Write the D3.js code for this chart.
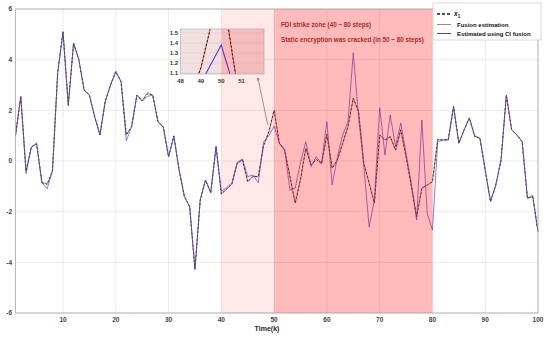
<!DOCTYPE html>
<html>
<head>
<meta charset="utf-8">
<script src="https://d3js.org/d3.v7.min.js"></script>
<style>
    body { margin: 0; background: #fff; }
    text { font-family: "Liberation Sans", Arial, sans-serif; font-weight: bold; }
</style>
</head>
<body>
<script>
// time steps 1..100
var steps = d3.range(1, 101);

// true state x1
var x1 = [1.0, 2.55, -0.4, 0.55, 0.67, -0.85, -0.93, -0.4, 3.5, 5.1,
          2.2, 4.65, 4.0, 2.8, 2.6, 1.75, 1.03, 2.35, 3.0, 3.53,
          3.13, 1.03, 1.36, 2.6, 2.37, 2.65, 2.6, 1.55, 1.34, 0.17,
          0.99, -0.36, -1.4, -1.8, -4.25, -1.54, -0.75, -1.25, 0.57, -1.3,
          -1.1, -0.9, -0.1, 0.05, -0.82, -0.6, -0.62, 0.6, 1.15, 2.0,
          0.7, 0.43, -0.62, -1.66, -0.72, 0.5, -0.15, 0.06, -0.1, 1.05,
          -0.28, 0.04, 0.7, 1.36, 2.48, 1.95, -0.1, -0.87, -1.66, 1.03,
          0.83, 0.96, 0.43, 1.23, 0.17, -1.0, -2.2, -1.07, -0.95, -0.82,
          0.85, 0.83, 0.85, 2.15, 0.7, 1.23, 1.7, 0.96, 0.9, -0.36,
          -1.6, -0.95, 0.04, 2.6, 1.23, 1.03, 0.76, -1.47, -1.41, -2.8];

// fusion estimation (encrypted)
var fusion = [1.0, 2.55, -0.4, 0.55, 0.72, -0.85, -0.9, -0.4, 3.5, 5.1,
              2.2, 4.65, 4.0, 2.8, 2.6, 1.75, 1.03, 2.35, 3.0, 3.53,
              3.13, 1.03, 1.36, 2.6, 2.37, 2.7, 2.6, 1.55, 1.34, 0.17,
              0.99, -0.36, -1.4, -1.8, -4.25, -1.54, -0.75, -1.25, 0.57, -1.3,
              -1.12, -0.92, -0.1, 0.05, -0.82, -0.6, -0.62, 0.6, 1.15, 2.0,
              0.7, 0.43, -0.62, -1.66, -0.72, 0.5, -0.15, 0.06, -0.1, 1.05,
              -0.28, 0.04, 0.7, 1.36, 2.48, 1.95, -0.1, -0.87, -1.66, 1.03,
              0.83, 0.96, 0.43, 1.23, 0.17, -1.0, -2.2, -1.07, -0.95, -0.82,
              0.85, 0.83, 0.85, 2.15, 0.7, 1.23, 1.7, 0.98, 0.9, -0.36,
              -1.6, -0.95, 0.04, 2.6, 1.23, 1.03, 0.76, -1.47, -1.35, -2.8];

// estimated using CI fusion
var ciFusion = [1.0, 2.55, -0.5, 0.55, 0.67, -0.85, -1.1, -0.4, 3.5, 5.1,
                2.2, 4.65, 4.0, 2.8, 2.6, 1.75, 1.03, 2.35, 3.0, 3.53,
                3.13, 0.8, 1.36, 2.6, 2.37, 2.55, 2.6, 1.55, 1.34, 0.17,
                0.99, -0.36, -1.4, -1.8, -4.3, -1.54, -0.75, -1.25, 0.57, -1.2,
                -1.05, -0.87, -0.05, 0.08, -0.62, -0.55, -0.86, 0.75, 1.0, 1.38,
                0.7, 0.45, -1.15, -1.07, -0.05, 0.76, -0.22, 0.17, -0.1, 1.55,
                -0.95, 0.17, 1.03, 1.55, 4.27, 1.75, -0.22, -2.6, -1.54, 2.1,
                0.24, 1.82, 0.57, 1.5, 0.3, -0.87, -2.33, 1.62, -2.06, -2.73,
                0.76, 0.83, 0.82, 2.15, 0.7, 1.23, 1.7, 1.0, 0.9, -0.36,
                -1.6, -0.95, 0.04, 2.6, 1.23, 1.03, 0.76, -1.47, -1.41, -2.8];

var xTicks = [10, 20, 30, 40, 50, 60, 70, 80, 90, 100];
var yTicks = [-6, -4, -2, 0, 2, 4, 6];
var insetXTicks = [48, 49, 50, 51];
var insetYTicks = [1.1, 1.2, 1.3, 1.4, 1.5];

// shaded zones: [start, end, opacity]
var zones = [[40, 50, 0.09], [50, 80, 0.27]];

var series = [
    {name: "fusion", values: fusion, color: "#b8826a", dash: null, width: 1, opacity: 1},
    {name: "x1", values: x1, color: "#1a1a1a", dash: "2,2", width: 0.8, opacity: 1},
    {name: "ci", values: ciFusion, color: "#4b3ee0", dash: null, width: 0.9, opacity: 0.75}
];

var width = 550,
    height = 337;

var svg = d3.select("body").append("svg")
                .attr("width", width)
                .attr("height", height);

var x = d3.scaleLinear().domain([1, 100]).range([15.5, 538]);
var y = d3.scaleLinear().domain([-6, 6]).range([313, 9]);

// grid
svg.append("g")
    .selectAll("line.gx")
    .data(xTicks)
    .join("line")
        .attr("x1", d => x(d)).attr("x2", d => x(d))
        .attr("y1", y(6)).attr("y2", y(-6))
        .style("stroke", "#e3e3e3").style("stroke-width", 0.7);

svg.append("g")
    .selectAll("line.gy")
    .data(yTicks)
    .join("line")
        .attr("x1", x(1)).attr("x2", x(100))
        .attr("y1", d => y(d)).attr("y2", d => y(d))
        .style("stroke", "#e3e3e3").style("stroke-width", 0.7);

var line = d3.line()
                .x((d, i) => x(steps[i]))
                .y(d => y(d));

series.forEach(function (s) {
    svg.append("path")
        .attr("d", line(s.values))
        .style("fill", "none")
        .style("stroke", s.color)
        .style("stroke-width", s.width)
        .style("stroke-opacity", s.opacity)
        .style("stroke-dasharray", s.dash);
});

// attack zones drawn over the lines
svg.append("g")
    .selectAll("rect")
    .data(zones)
    .join("rect")
        .attr("x", d => x(d[0]))
        .attr("y", y(6))
        .attr("width", d => x(d[1]) - x(d[0]))
        .attr("height", y(-6) - y(6))
        .style("fill", "#ff0000")
        .style("fill-opacity", d => d[2]);

// axes box + tick labels
svg.append("rect")
    .attr("x", x(1)).attr("y", y(6))
    .attr("width", x(100) - x(1)).attr("height", y(-6) - y(6))
    .style("fill", "none").style("stroke", "#a8a8a8").style("stroke-width", 0.8);

svg.append("g")
    .selectAll("text")
    .data(xTicks)
    .join("text")
        .attr("x", d => x(d)).attr("y", 322)
        .attr("text-anchor", "middle")
        .style("font-size", "6.5px").style("fill", "#444")
        .text(d => d);

svg.append("g")
    .selectAll("text")
    .data(yTicks)
    .join("text")
        .attr("x", 12).attr("y", d => y(d) + 2.3)
        .attr("text-anchor", "end")
        .style("font-size", "6.5px").style("fill", "#444")
        .text(d => d);

svg.append("text")
    .attr("x", 267).attr("y", 331)
    .attr("text-anchor", "middle")
    .style("font-size", "7px").style("fill", "#222")
    .text("Time(k)");

// annotations
svg.append("text")
    .attr("x", 281).attr("y", 27)
    .style("font-size", "6.3px").style("fill", "#b02a1e")
    .text("FDI strike zone (40 ~ 80 steps)");

svg.append("text")
    .attr("x", 281).attr("y", 42)
    .style("font-size", "6.3px").style("fill", "#b02a1e")
    .text("Static encryption was cracked (in 50 ~ 80 steps)");

// inset zoom
var ix = d3.scaleLinear().domain([48, 52.1]).range([180.5, 264]);
var iy = d3.scaleLinear().domain([1.09, 1.54]).range([74, 29]);

var inset = svg.append("g");

inset.append("clipPath")
        .attr("id", "insetClip")
    .append("rect")
        .attr("x", ix(48)).attr("y", iy(1.54))
        .attr("width", ix(52.1) - ix(48)).attr("height", iy(1.09) - iy(1.54));

inset.append("rect")
    .attr("x", ix(48)).attr("y", iy(1.54))
    .attr("width", ix(52.1) - ix(48)).attr("height", iy(1.09) - iy(1.54))
    .style("fill", "#f1f1f1");

inset.selectAll("line.igy")
    .data(insetYTicks)
    .join("line")
        .attr("x1", ix(48)).attr("x2", ix(52.1))
        .attr("y1", d => iy(d)).attr("y2", d => iy(d))
        .style("stroke", "#dcdcdc").style("stroke-width", 0.5);

var iline = d3.line()
                .x((d, i) => ix(steps[i]))
                .y(d => iy(d));

var insetLines = inset.append("g").attr("clip-path", "url(#insetClip)");

series.forEach(function (s) {
    insetLines.append("path")
        .attr("d", iline(s.values))
        .style("fill", "none")
        .style("stroke", s.color)
        .style("stroke-width", s.width + 0.2)
        .style("stroke-dasharray", s.dash);
});

insetLines.selectAll("rect.zone")
    .data([[48, 50, 0.07], [50, 52.1, 0.22]])
    .join("rect")
        .attr("x", d => ix(d[0]))
        .attr("y", iy(1.54))
        .attr("width", d => ix(d[1]) - ix(d[0]))
        .attr("height", iy(1.09) - iy(1.54))
        .style("fill", "#ff0000")
        .style("fill-opacity", d => d[2]);

inset.append("rect")
    .attr("x", ix(48)).attr("y", iy(1.54))
    .attr("width", ix(52.1) - ix(48)).attr("height", iy(1.09) - iy(1.54))
    .style("fill", "none").style("stroke", "#b0b0b0").style("stroke-width", 0.7);

inset.selectAll("text.ixt")
    .data(insetXTicks)
    .join("text")
        .attr("x", d => ix(d)).attr("y", 83)
        .attr("text-anchor", "middle")
        .style("font-size", "6px").style("fill", "#333")
        .text(d => d);

inset.selectAll("text.iyt")
    .data(insetYTicks)
    .join("text")
        .attr("x", 178).attr("y", d => iy(d) + 2.2)
        .attr("text-anchor", "end")
        .style("font-size", "6px").style("fill", "#333")
        .text(d => d.toFixed(1));

// arrow from the curve to the inset
var tail = [x(48.8), y(1.42)],
    head = [ix(51.8), iy(1.05)];

svg.append("defs").append("marker")
        .attr("id", "arrowHead")
        .attr("viewBox", "0 0 10 10")
        .attr("refX", 9).attr("refY", 5)
        .attr("markerWidth", 5).attr("markerHeight", 5)
        .attr("orient", "auto")
    .append("path")
        .attr("d", "M0,0 L10,5 L0,10")
        .style("fill", "none").style("stroke", "#444").style("stroke-width", 1.5);

svg.append("line")
    .attr("x1", tail[0]).attr("y1", tail[1])
    .attr("x2", head[0]).attr("y2", head[1])
    .style("stroke", "#555").style("stroke-width", 0.6)
    .attr("marker-end", "url(#arrowHead)");

// legend
var legend = svg.append("g").attr("transform", "translate(433,3)");

legend.append("rect")
    .attr("width", 108).attr("height", 37)
    .style("fill", "#fff").style("stroke", "#c8c8c8").style("stroke-width", 0.7);

var legendRows = [
    {s: series[1], y: 11},
    {s: series[0], y: 21.5},
    {s: series[2], y: 30.5}
];

legendRows.forEach(function (r) {
    legend.append("line")
        .attr("x1", 4).attr("x2", 18)
        .attr("y1", r.y).attr("y2", r.y)
        .style("stroke", r.s.color)
        .style("stroke-width", r.s.name == "x1" ? 1.4 : 1)
        .style("stroke-dasharray", r.s.name == "x1" ? "3,2" : null);
});

var lx1 = legend.append("text")
                .attr("x", 21).attr("y", 13)
                .style("font-size", "6.5px").style("fill", "#111");
lx1.append("tspan").style("font-style", "italic").text("x");
lx1.append("tspan").attr("dy", 1.8).style("font-size", "4.5px").text("1");

legend.append("text")
    .attr("x", 24).attr("y", 23.5)
    .style("font-size", "6px").style("fill", "#111")
    .text("Fusion estimation");

legend.append("text")
    .attr("x", 24).attr("y", 32.5)
    .style("font-size", "6px").style("fill", "#111")
    .text("Estimated using CI fusion");
</script>
</body>
</html>
